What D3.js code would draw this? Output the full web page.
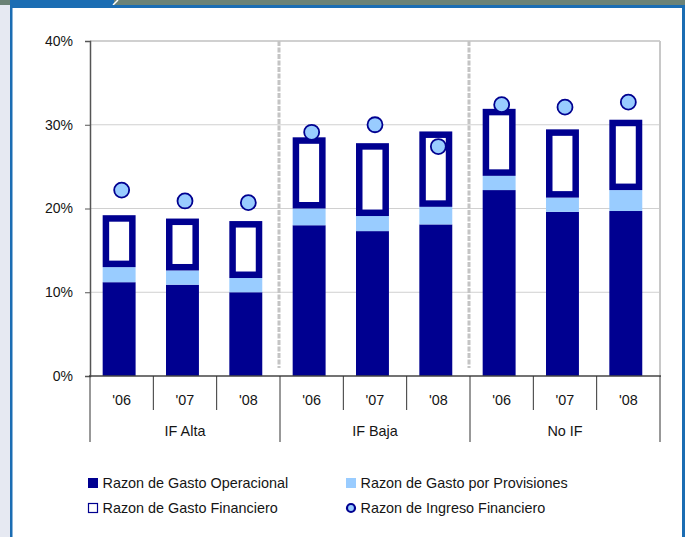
<!DOCTYPE html>
<html><head><meta charset="utf-8">
<script src="https://cdn.jsdelivr.net/npm/d3@7"></script>
<style>
html,body{margin:0;padding:0;background:#fff;}
svg{display:block;font-family:"Liberation Sans",Arial,sans-serif;}
</style></head>
<body>
<svg id="c" width="685" height="537"></svg>
<script>
const groups = ["IF Alta", "IF Baja", "No IF"];
const years = ["'06", "'07", "'08"];
const operacional = [11.2, 10.9, 10.0, 18.0, 17.3, 18.1, 22.2, 19.6, 19.7];
const provisiones = [1.8, 1.7, 1.7, 2.0, 1.8, 2.1, 1.7, 1.7, 2.5];
const financiero = [6.2, 6.2, 6.8, 8.5, 8.7, 9.0, 8.0, 8.15, 8.4];
const ingreso = [22.2, 20.9, 20.7, 29.1, 30.0, 27.4, 32.4, 32.1, 32.7];
const yTicks = [0, 10, 20, 30, 40];
const legendLabels = ["Razon de Gasto Operacional", "Razon de Gasto por Provisiones", "Razon de Gasto Financiero", "Razon de Ingreso Financiero"];

const DARK = "#000090", LIGHT = "#99ccff", FRAME = "#1b6db3", FS = 14.4, TXT = "#151515";
const svg = d3.select("#c");

// frame
svg.append("rect").attr("x",0).attr("y",0).attr("width",10).attr("height",537).attr("fill","#e6e9f2");
svg.append("rect").attr("x",0).attr("y",0).attr("width",685).attr("height",5).attr("fill","#6b8276");
svg.append("rect").attr("x",10).attr("y",0).attr("width",104).attr("height",5).attr("fill",FRAME);
svg.append("line").attr("x1",113).attr("y1",5).attr("x2",118).attr("y2",0).attr("stroke","#fff").attr("stroke-width",1.5);
svg.append("rect").attr("x",10).attr("y",5).attr("width",675).attr("height",3).attr("fill",FRAME);
svg.append("rect").attr("x",10).attr("y",5).attr("width",2.5).attr("height",532).attr("fill",FRAME);
svg.append("rect").attr("x",682).attr("y",5).attr("width",3).attr("height",532).attr("fill",FRAME);

const X0 = 90, X1 = 660, Y0 = 376, Y1 = 41;
const idx = d3.range(operacional.length);
const x = d3.scaleBand().domain(idx).range([X0, X1]).padding(0);
const bw = x.bandwidth();
const y = d3.scaleLinear().domain([0, 40]).range([Y0, Y1]);

// gridlines
svg.append("g").selectAll("line").data(yTicks.filter(t=>t>0)).join("line")
  .attr("x1",X0).attr("x2",X1).attr("y1",d=>y(d)).attr("y2",d=>y(d))
  .attr("stroke","#d0d0d0").attr("stroke-width",d=>d===40?2:1);
svg.append("line").attr("x1",X1).attr("x2",X1).attr("y1",Y1).attr("y2",Y0).attr("stroke","#c8c8c8").attr("stroke-width",2);

// group separators (dashed)
svg.append("g").selectAll("line").data([1,2]).join("line")
  .attr("x1",g=>x(g*3)-1).attr("x2",g=>x(g*3)-1).attr("y1",Y1).attr("y2",Y0-8)
  .attr("stroke","#c4c4c4").attr("stroke-width",3).attr("stroke-dasharray","5,1.5");

// bars
const bx = i => x(i) + bw*0.2, bW = bw*0.52;
const bars = svg.append("g");
bars.selectAll(".op").data(idx).join("rect").attr("class","op")
  .attr("x",bx).attr("width",bW).attr("y",i=>y(operacional[i])).attr("height",i=>Y0-y(operacional[i])).attr("fill",DARK);
bars.selectAll(".pr").data(idx).join("rect").attr("class","pr")
  .attr("x",bx).attr("width",bW).attr("y",i=>y(operacional[i]+provisiones[i])).attr("height",i=>y(operacional[i])-y(operacional[i]+provisiones[i])).attr("fill",LIGHT);
const B = 6.5;
bars.selectAll(".fo").data(idx).join("rect").attr("class","fo")
  .attr("x",bx).attr("width",bW)
  .attr("y",i=>y(operacional[i]+provisiones[i]+financiero[i]))
  .attr("height",i=>y(operacional[i]+provisiones[i])-y(operacional[i]+provisiones[i]+financiero[i])).attr("fill",DARK);
bars.selectAll(".fi").data(idx).join("rect").attr("class","fi")
  .attr("x",i=>bx(i)+B).attr("width",bW-2*B)
  .attr("y",i=>y(operacional[i]+provisiones[i]+financiero[i])+B)
  .attr("height",i=>y(operacional[i]+provisiones[i])-y(operacional[i]+provisiones[i]+financiero[i])-2*B).attr("fill","#fff");

// circles
svg.append("g").selectAll("circle").data(idx).join("circle")
  .attr("cx",i=>x(i)+bw/2).attr("cy",i=>y(ingreso[i])).attr("r",7.5)
  .attr("fill",LIGHT).attr("stroke",DARK).attr("stroke-width",1.8);

// y axis
const ya = svg.append("g").attr("transform",`translate(${X0},0)`)
  .call(d3.axisLeft(y).tickValues(yTicks).tickFormat(d=>d+"%").tickSize(5).tickPadding(12));
ya.select(".domain").attr("stroke","#555").attr("stroke-width",1.5);
ya.selectAll(".tick line").attr("stroke","#555");
ya.selectAll("text").attr("font-size",14).attr("fill",TXT).attr("font-family","Liberation Sans, Arial, sans-serif");

// x axis baseline
svg.append("line").attr("x1",X0-1).attr("x2",X1+1).attr("y1",Y0).attr("y2",Y0).attr("stroke","#444").attr("stroke-width",1.5);
// category ticks
const sep = d3.range(operacional.length+1);
svg.append("g").selectAll("line").data(sep).join("line")
  .attr("x1",i=>i<operacional.length?x(i):X1).attr("x2",i=>i<operacional.length?x(i):X1)
  .attr("y1",Y0).attr("y2",i=>i%3===0?442:410)
  .attr("stroke","#333").attr("stroke-width",1);
svg.append("g").selectAll("text").data(idx).join("text")
  .attr("x",i=>x(i)+bw/2).attr("y",404.5).attr("text-anchor","middle")
  .attr("font-size",FS).attr("fill",TXT).text(i=>years[i%3]);
svg.append("g").selectAll("text").data(groups).join("text")
  .attr("x",(g,j)=>x(j*3)+bw*1.5).attr("y",436).attr("text-anchor","middle")
  .attr("font-size",FS).attr("fill",TXT).text(g=>g);

// legend
const lg = svg.append("g");
const lpos = [[88,483],[346,483],[88,508],[346,508]];
lg.append("rect").attr("x",lpos[0][0]).attr("y",lpos[0][1]-5).attr("width",10).attr("height",10).attr("fill",DARK);
lg.append("rect").attr("x",lpos[1][0]).attr("y",lpos[1][1]-5).attr("width",10).attr("height",10).attr("fill",LIGHT);
lg.append("rect").attr("x",lpos[2][0]+0.5).attr("y",lpos[2][1]-4.5).attr("width",9).attr("height",9).attr("fill","#fff").attr("stroke",DARK).attr("stroke-width",1.2);
lg.append("circle").attr("cx",lpos[3][0]+5).attr("cy",lpos[3][1]).attr("r",4).attr("fill",LIGHT).attr("stroke",DARK).attr("stroke-width",2.2);
lg.selectAll("text").data(legendLabels).join("text")
  .attr("x",(d,i)=>lpos[i][0]+14.5).attr("y",(d,i)=>lpos[i][1]+5.2)
  .attr("font-size",FS).attr("fill",TXT).text(d=>d);
</script>
</body></html>
